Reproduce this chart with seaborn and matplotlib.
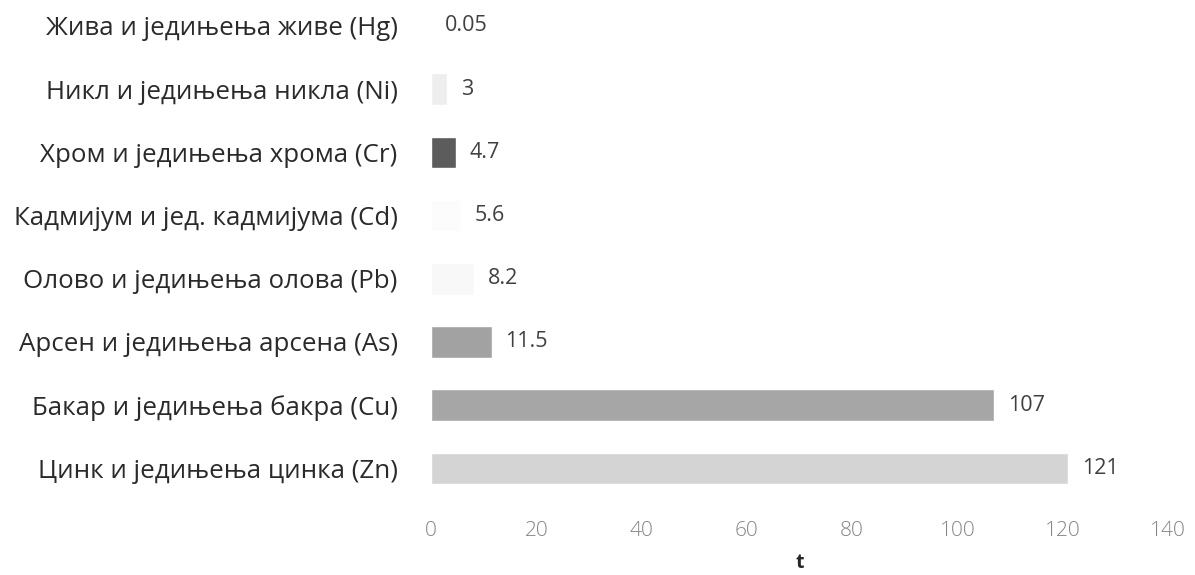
import pandas as pd
import seaborn as sns
import matplotlib.pyplot as plt

categories = [
    "Жива и једињења живе (Hg)",
    "Никл и једињења никла (Ni)",
    "Хром и једињења хрома (Cr)",
    "Кадмијум и јед. кадмијума (Cd)",
    "Олово и једињења олова (Pb)",
    "Арсен и једињења арсена (As)",
    "Бакар и једињења бакра (Cu)",
    "Цинк и једињења цинка (Zn)",
]
values = [0.05, 3, 4.7, 5.6, 8.2, 11.5, 107, 121]
value_labels = ["0.05", "3", "4.7", "5.6", "8.2", "11.5", "107", "121"]
bar_colors = ["#f8f8f8", "#eeeeee", "#5c5c5c", "#fcfcfc", "#f8f8f8",
              "#a2a2a2", "#a6a6a6", "#d4d4d4"]

df = pd.DataFrame({"category": categories, "value": values})

sns.set_style("white")
plt.rcParams["font.family"] = ["Open Sans", "DejaVu Sans"]

fig = plt.figure(figsize=(11.95, 5.75), dpi=100)
ax = fig.add_axes([0.3607, 0.1304, 0.6167, 0.8696])

sns.barplot(data=df, x="value", y="category", hue="category",
            palette=bar_colors, legend=False, width=0.5,
            saturation=1, ax=ax)

for cont, lab in zip(ax.containers, value_labels):
    ax.bar_label(cont, labels=[lab], padding=10, fontsize=15.5, color="#404040")

ax.set_xlim(0, 140)
ax.set_ylim(7.5, -0.41)
ax.set_xticks(range(0, 141, 20))
sns.despine(ax=ax, left=True, bottom=True)
ax.tick_params(axis="y", length=0, pad=24, labelsize=18.6, labelcolor="#2a2a2a")
ax.tick_params(axis="x", length=0, pad=15, labelsize=15, labelcolor="#858585")
for t in ax.get_xticklabels():
    t.set_fontweight("light")
ax.set_ylabel("")
ax.set_xlabel("t", fontsize=14, fontweight="bold", color="#262626", labelpad=9)

fig.savefig("out.png", dpi=100)
